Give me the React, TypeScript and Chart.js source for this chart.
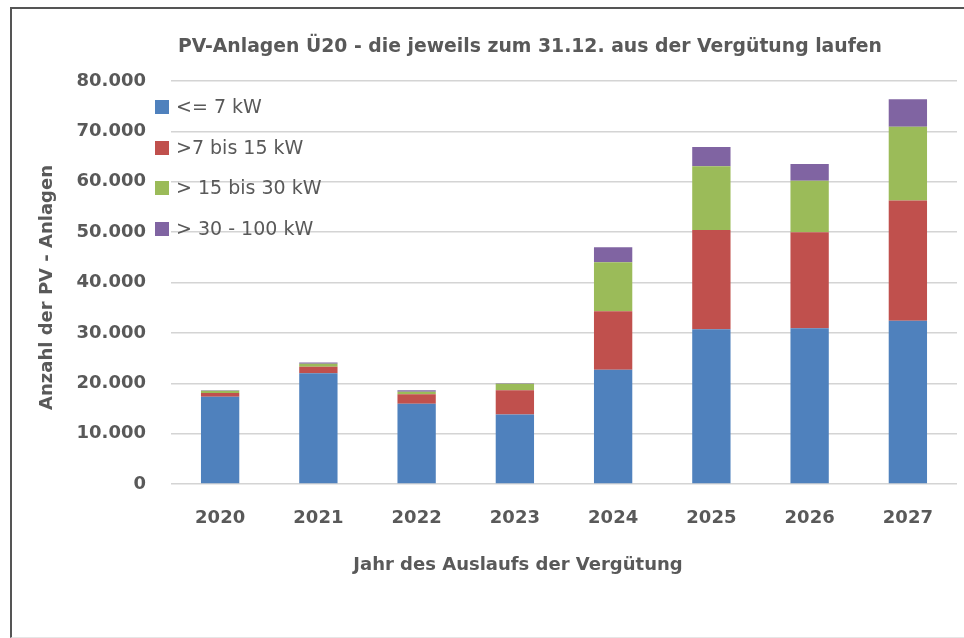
import React, { useEffect, useRef } from "react";
import { Chart, registerables } from "chart.js";

Chart.register(...registerables);

const years = ["2020", "2021", "2022", "2023", "2024", "2025", "2026", "2027"];
const upTo7 = [17300, 22000, 15950, 13800, 22700, 30700, 30900, 32400];
const from7to15 = [750, 1300, 1850, 4800, 11600, 19700, 19100, 23900];
const from15to30 = [450, 550, 500, 1300, 9700, 12700, 10200, 14600];
const from30to100 = [100, 250, 300, 100, 3000, 3800, 3300, 5500];
const seriesLabels = ["<= 7 kW", ">7 bis 15 kW", "> 15 bis 30 kW", "> 30 - 100 kW"];
const seriesColors = ["#4F81BD", "#C0504D", "#9BBB59", "#8064A2"];
const titleText = "PV-Anlagen Ü20 - die jeweils zum 31.12. aus der Vergütung laufen";
const xTitle = "Jahr des Auslaufs der Vergütung";
const yTitle = "Anzahl der PV - Anlagen";

const TEXT = "#595959";

function fmt(v: number): string {
  return String(Math.round(v)).replace(/\B(?=(\d{3})+(?!\d))/g, ".");
}

const decorPlugin = {
  id: "decor",
  afterDraw(chart: any) {
    const ctx = chart.ctx as CanvasRenderingContext2D;
    const area = chart.chartArea;
    ctx.save();
    // Title
    ctx.fillStyle = TEXT;
    ctx.font = "bold 20px 'DejaVu Sans'";
    ctx.textAlign = "center";
    ctx.textBaseline = "middle";
    ctx.fillText(titleText, 530, 47, 704);
    // X title
    ctx.font = "bold 18px 'DejaVu Sans'";
    ctx.fillText(xTitle, 518, 565, 346);
    // Y title
    ctx.save();
    ctx.translate(47, (area.top + area.bottom) / 2 + 5);
    ctx.rotate(-Math.PI / 2);
    ctx.fillText(yTitle, 0, 0, 246);
    ctx.restore();
    // Legend
    ctx.font = "19px 'DejaVu Sans'";
    ctx.textAlign = "left";
    const ys = [107, 148, 188, 229];
    seriesLabels.forEach((lab, i) => {
      ctx.fillStyle = seriesColors[i];
      ctx.fillRect(155, ys[i] - 7, 14, 14);
      ctx.fillStyle = TEXT;
      ctx.fillText(lab, 176, ys[i] + 1);
    });
    ctx.restore();
  },
};

export default function App() {
  const ref = useRef<HTMLCanvasElement | null>(null);
  useEffect(() => {
    if (!ref.current) return;
    const datasets = [upTo7, from7to15, from15to30, from30to100].map((d, i) => ({
      label: seriesLabels[i],
      data: d,
      backgroundColor: seriesColors[i],
      borderWidth: 0,
      barPercentage: 0.39,
      categoryPercentage: 1,
    }));
    const chart = new Chart(ref.current, {
      type: "bar",
      data: { labels: years, datasets },
      options: {
        animation: false,
        responsive: false,
        maintainAspectRatio: false,
        layout: { padding: { top: 81, right: 7, bottom: 0, left: 0 } },
        plugins: {
          legend: { display: false },
          title: { display: false },
          tooltip: { enabled: false },
        },
        scales: {
          x: {
            stacked: true,
            grid: { display: false, drawTicks: false },
            border: { display: false },
            ticks: {
              color: TEXT,
              font: { family: "'DejaVu Sans'", size: 18, weight: "bold" },
              padding: 24,
            },
            afterFit: (s: any) => {
              s.height = 154;
            },
          },
          y: {
            stacked: true,
            min: 0,
            max: 80000,
            grid: { color: "#D4D4D4", lineWidth: 1.5, drawTicks: false },
            border: { display: false },
            ticks: {
              stepSize: 10000,
              color: TEXT,
              font: { family: "'DejaVu Sans'", size: 18, weight: "bold" },
              padding: 25,
              callback: (v: any) => fmt(Number(v)),
            },
            afterFit: (s: any) => {
              s.width = 171;
            },
          },
        },
      },
      plugins: [decorPlugin],
    });
    return () => chart.destroy();
  }, []);
  return (
    <div style={{ position: "fixed", left: 0, top: 0, width: 964, height: 638, background: "#fff" }}>
      <canvas ref={ref} width={964} height={638} style={{ position: "absolute", left: 0, top: 0 }} />
      <div
        style={{
          position: "absolute",
          left: 10,
          top: 7,
          width: 954,
          height: 628,
          borderLeft: "2px solid #555",
          borderTop: "2px solid #555",
          borderBottom: "1px solid #e6e6e6",
          pointerEvents: "none",
        }}
      />
    </div>
  );
}
